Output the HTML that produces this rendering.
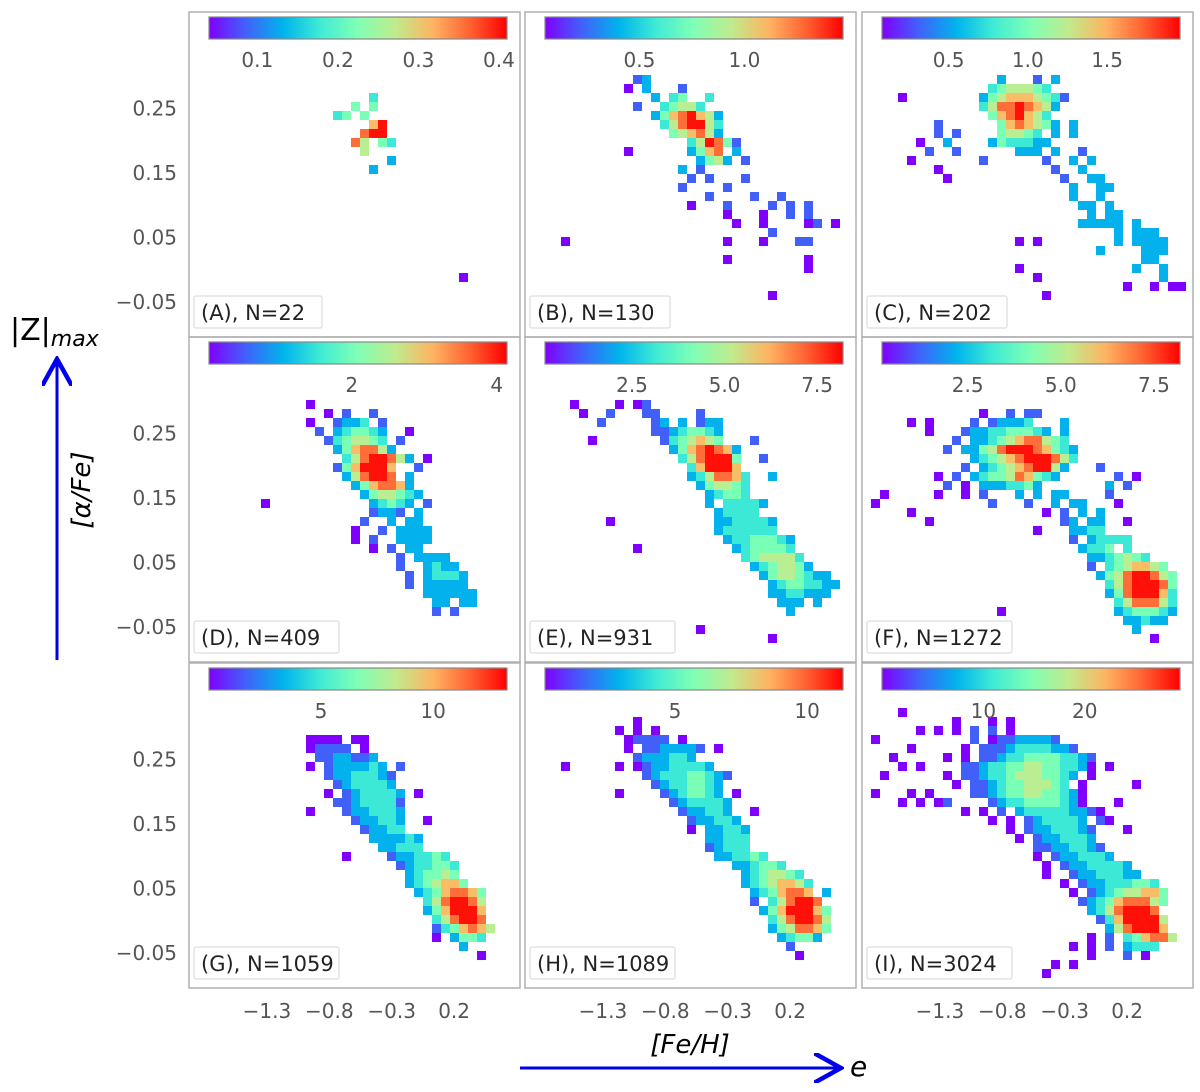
<!DOCTYPE html>
<html><head><meta charset="utf-8"><style>
body{margin:0;background:#fff;}
svg{display:block;font-family:"DejaVu Sans","Liberation Sans",sans-serif;}
</style></head><body>
<svg id="fig" width="1200" height="1092" viewBox="0 0 1200 1092" xmlns="http://www.w3.org/2000/svg">
<defs>
<linearGradient id="rb" x1="0" x2="1" y1="0" y2="0">
<stop offset="0" stop-color="#8000ff"/><stop offset="0.125" stop-color="#4062fa"/><stop offset="0.25" stop-color="#00b4ec"/><stop offset="0.375" stop-color="#40ecd4"/><stop offset="0.5" stop-color="#80ffb4"/><stop offset="0.625" stop-color="#c0eb8d"/><stop offset="0.75" stop-color="#ffb462"/><stop offset="0.875" stop-color="#ff6232"/><stop offset="1" stop-color="#ff0000"/>
</linearGradient>
<marker id="ah" markerWidth="10" markerHeight="10" refX="8" refY="5" orient="auto"><path d="M0,0 L9,5 L0,10" fill="none" stroke="#0000ee" stroke-width="1.5"/></marker>
</defs>
<g id="panels"></g>
<text x="10" y="340" font-size="30" fill="#000">|Z|<tspan font-style="italic" font-size="22" dy="6">max</tspan></text>
<line x1="57" y1="660" x2="57" y2="362" stroke="#0000ee" stroke-width="3" marker-end="url(#ah)"/>
<text transform="translate(90,490) rotate(-90)" text-anchor="middle" font-size="26" font-style="italic">[α/Fe]</text>
<text x="690" y="1053" text-anchor="middle" font-size="26" font-style="italic">[Fe/H]</text>
<line x1="520" y1="1068" x2="838" y2="1068" stroke="#0000ee" stroke-width="3" marker-end="url(#ah)"/>
<text x="850" y="1076" font-size="28" font-style="italic">e</text>
</svg>
<script>
const panelLabels=["(A), N=22","(B), N=130","(C), N=202","(D), N=409","(E), N=931","(F), N=1272","(G), N=1059","(H), N=1089","(I), N=3024"];
const cbMin=[0.04,0.05,0.08,0.03,0.15,0.2,0,0.08,0];
const cbMax=[0.41,1.47,1.96,4.14,8.2,8.2,13.3,11.36,29.4];
const cbTicks=[["0.1","0.2","0.3","0.4"],["0.5","1.0"],["0.5","1.0","1.5"],["2","4"],["2.5","5.0","7.5"],["2.5","5.0","7.5"],["5","10"],["5","10"],["10","20"]];
const yTicks=["0.25","0.15","0.05","−0.05"];
const xTicks=["−1.3","−0.8","−0.3","0.2"];
const cells=[
["9:20:4","10:18:5 5","11:16:45 5","12:20:79","13:19:899","14:18:86 54","15:19:6","16:22:3","17:20:3","29:30:1"],
["7:12:23","8:11:1 3","8:17:2","9:14:3","9:16:45","9:20:4","10:12:2","10:15:4566","10:19:4","11:14:35789763","12:15:4689964","13:16:567863","14:18:46985","14:23:2","15:11:1","15:18:3578 3","16:19:3563","16:24:2","17:17:3 2","18:18:2 2","18:24:2","19:17:2","19:22:2","20:20:2","20:25:2","20:28:2","21:18:1","21:22:2","21:27:2 2","21:31:2","22:22:1","22:26:1","22:29:2","22:31:2","23:23:1","23:26:1","23:31:12","23:34:1","24:27:2","25:4:1","25:22:1","25:26:1","25:30:22","27:22:1","27:31:1","28:31:1","31:27:1"],
["7:15:3","7:19:2 3","8:14:4566654","9:4:1","9:13:3567776542","10:13:468898763","11:14:5789764","12:8:2","12:15:5787653","12:23:3","13:8:2 2","13:15:56654","13:21:3 3","14:6:1","14:9:3","14:14:3544433","15:7:2","15:10:2","15:17:333 3","15:24:2","16:5:1","16:13:2","16:20:2","16:23:3 3","17:8:1","17:21:2","17:24:3","18:9:1","18:22:2","18:25:33","19:23:3","19:26:33","20:23:3","20:26:3","21:24:33","21:27:3","22:25:3","22:27:33","23:24:33333","23:30:3","24:28:3","24:30:333","25:17:1","25:19:1","25:28:3","25:30:3333","26:26:3","26:31:333","27:31:33","28:17:1","28:30:3","28:33:3","29:19:1","29:33:3","30:29:1","30:32:1","30:34:11","31:20:1"],
["7:13:1","8:15:1","8:17:2","8:20:2","9:13:1","9:16:2334","9:21:2","10:14:2","10:16:345543","10:24:1","11:15:2456654","11:23:2","12:16:3578863","13:17:46899863","13:26:1","14:16:2579997","14:25:2","15:17:368998","15:24:3","16:18:3578873","17:19:3566543","18:8:1","18:20:34543","18:26:2","19:20:2332 3","20:19:2","20:22:3 33","21:18:1","21:21:2 3333","22:18:1 2","22:23:3333","23:20:1 2","23:24:33","24:23:2","24:25:3333","25:23:2","25:26:3433","26:24:2","26:26:34443","27:24:2 33333","28:26:333333","29:27:33 33","30:27:2","30:29:2"],
["7:5:1","7:10:1 1","7:13:2","8:6:1","8:9:2","8:13:22","8:19:2","9:8:2","9:14:23 3","9:19:233","10:14:22345543","11:7:1","11:15:2456765","11:25:2","12:16:35789873","13:17:4689995","13:26:2","14:18:479997","15:18:3468874","15:27:3","16:19:356654","17:20:34554","18:20:3 44443","19:21:34444","20:9:1","20:21:3344443","21:21:3444444","22:22:34455543","23:12:1","23:23:3455554","24:24:4566664","25:25:3456653","26:26:35665433","27:27:34554433","28:27:3344333","29:28:333 3","30:29:3","32:19:1","33:27:1"],
["8:13:1","8:16:2 2","8:19:2","9:5:1 1","9:12:2 23334","9:22:3","10:7:1","10:11:2334455543","10:22:3","11:10:2 33456788654","12:9:2 3356899987543","13:12:345678999864","14:11:2 3456789963","14:26:2","15:8:1 2 3455687543","15:28:2 1","16:9:2 1 3334453","16:27:3 2","17:2:1","17:8:1","17:11:1 2","17:17:3 3 33","17:27:2","18:1:1","18:14:2","18:18:2","18:21:3 33","18:28:1","19:5:1","19:20:1 2 3 3","20:7:1","20:22:23 33","20:29:1","21:19:1","21:23:3344","22:23:2 34444","23:24:3445 4","24:25:3345654","25:25:2 4567765","26:26:356899865","27:27:46899985","28:27:35899974","29:28:4688864","30:15:1","30:28:3455543","31:29:33433","32:30:3","33:32:1"],
["8:13:1111","8:18:11","9:13:12222","9:19:1","10:14:2233223","11:13:1 2333343","11:23:2","12:15:23344432","13:16:2344443","14:15:1 2344443 1","15:16:22344442","16:13:1","16:17:2334443","17:18:233443","17:26:1","18:19:23344","19:20:333343","20:21:33444","21:17:1","21:22:2334454","22:23:2344554","23:24:345565","24:24:3456775","25:25:34578875","26:26:4689986","27:26:3579997","28:27:468998","29:27:2457876","30:27:1 3554","31:30:3","32:32:1"],
["6:12:1","7:10:1 1","7:14:1","8:11:12222","8:17:1","9:11:1 2233332","9:21:1","10:12:2333443","11:4:1","11:10:1 123344443","12:13:2344455432","13:14:23445543","14:10:1","14:15:2345543 1","15:16:2344443","16:17:233443","16:25:1","17:18:233443","18:18:1 33443","19:20:33444","20:20:23444","21:21:334454","22:23:334554","23:24:3456654","24:24:34567764","25:25:3457887 3","26:25:2 468998","27:26:35799975","28:27:4689986","29:27:3568875","30:28:34553","31:29:2","32:30:1"],
["5:4:1","6:10:1","6:14:1 1","7:6:1 1","7:10:1 2 2 1","8:1:1","8:12:2 12233332","9:5:1","9:11:1 22234444332","10:3:1","10:9:1 1 2234455554432","11:4:1 1","11:11:223445566554431 1","12:2:1","12:9:1 2234456665543 1","13:10:1 22345566654 1","13:30:1","14:1:1","14:5:1 1","14:12:2234556655431","15:4:1 1 12","15:14:23445555431","15:28:1","16:11:1 1 2 3444443321","17:14:1 1 2344443 21","18:16:1 23344432","18:29:1","19:17:1 2334443","20:19:22334432","21:19:1 2334443","22:20:1 23344443","23:20:1","23:23:23344433","24:22:1 233444554","25:23:1 234566775","26:24:2345788865","27:25:34689998","28:26:24799996","29:27:3689997","30:25:1 2 457886","31:23:1 1 2 3444","32:25:1","32:29:2 1","33:21:1 1","34:20:1"]
];
const NS="http://www.w3.org/2000/svg";
const G=document.getElementById('panels');
const colX=[189,525,862], rowY=[12,337,663], PW=331, PH=325, CELL=9;
const FE0=-1.924, FE1=0.728, A0=0.399, A1=-0.104;
function xScale(px0,fe){return px0+(fe-FE0)/(FE1-FE0)*PW;}
function yScale(py0,a){return py0+(a-A0)/(A1-A0)*PH;}
function rainbow(t){t=Math.max(0,Math.min(1,t));
 const r=Math.min(1,Math.abs(2*t-0.5)),g=Math.sin(Math.PI*t),b=Math.cos(Math.PI*t/2);
 return `rgb(${Math.round(r*255)},${Math.round(g*255)},${Math.round(b*255)})`;}
function mk(tag,attrs,parent){const e=document.createElementNS(NS,tag);for(const k in attrs)e.setAttribute(k,attrs[k]);parent.appendChild(e);return e;}
for(let p=0;p<9;p++){
 const x0=colX[p%3],y0=rowY[Math.floor(p/3)];
 const g=mk('g',{},G);
 
 
 const vmin=cbMin[p],vmax=cbMax[p];
 const maxv=vmin+(vmax-vmin)*0.98;
 cells[p].forEach(s=>{
  const parts=s.split(':');const r=+parts[0],c0=+parts[1],lv=parts[2];
  for(let i=0;i<lv.length;i++){
   if(lv[i]===' ')continue;
   const L=+lv[i];
   const val=vmin+(maxv-vmin)*(L-1)/8;
   const fe=FE0+(c0+i)*CELL/PW*(FE1-FE0);
   const al=A0+r*CELL/PH*(A1-A0);
   const cx=xScale(x0,fe),cy=yScale(y0,al);
   const rc=mk('rect',{x:cx.toFixed(1),y:cy.toFixed(1),width:CELL,height:CELL,fill:rainbow((val-vmin)/(vmax-vmin))},g);
   
   
  }
 });
 const fr=mk('rect',{x:x0,y:y0,width:PW,height:PH,fill:'none',stroke:'#b0b0b0','stroke-width':1.5},g);
 
 
 const cbx=x0+20,cbw=298,cby=y0+5,cbh=22;
 const cb=mk('rect',{x:cbx,y:cby,width:cbw,height:cbh,fill:'url(#rb)',stroke:'#888','stroke-width':1.2},g);
 
 
 cbTicks[p].forEach(t=>{
  const v=parseFloat(t);
  const tx=cbx+(v-vmin)/(vmax-vmin)*cbw;
  const te=mk('text',{x:tx.toFixed(1),y:y0+55,'text-anchor':'middle','font-size':20,fill:'#555'},g);
  te.textContent=t;
  
  
 });
 const lb=mk('rect',{x:x0+5,y:y0+284,width:p<3?(p===0?128:140):145,height:32,fill:'#fff',stroke:'#ddd','stroke-width':1.2,rx:2},g);
 
 
 const lt=mk('text',{x:x0+12,y:y0+308,'font-size':21,fill:'#222'},g);
 lt.textContent=panelLabels[p];
 
 
 if(p%3===0){
  yTicks.forEach(t=>{
   const v=parseFloat(t.replace('−','-'));
   const te=mk('text',{x:177,y:(yScale(y0,v)+7).toFixed(1),'text-anchor':'end','font-size':20,fill:'#555'},g);
   te.textContent=t;
   
   
  });
 }
 if(p>=6){
  xTicks.forEach(t=>{
   const v=parseFloat(t.replace('−','-'));
   const te=mk('text',{x:xScale(x0,v).toFixed(1),y:1018,'text-anchor':'middle','font-size':20,fill:'#555'},g);
   te.textContent=t;
   
   
  });
 }
}
</script>
</body></html>
